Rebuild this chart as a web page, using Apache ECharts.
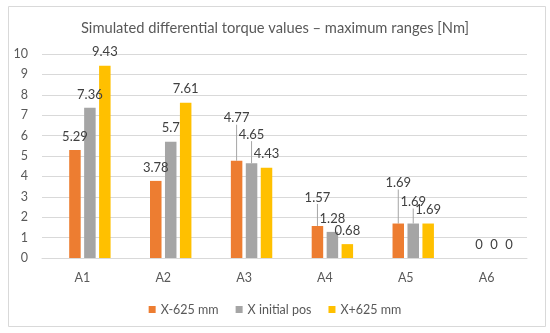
<!DOCTYPE html>
<html>
<head>
<meta charset="utf-8">
<script src="https://cdn.jsdelivr.net/npm/echarts@6/dist/echarts.min.js"></script>
<style>
html,body{margin:0;padding:0;background:#fff;}
#c{width:550px;height:333px;}
</style>
</head>
<body>
<div id="c"></div>
<script>
var categories = ['A1', 'A2', 'A3', 'A4', 'A5', 'A6'];
var seriesNames = ['X-625 mm', 'X initial pos', 'X+625 mm'];
var xMinus625 = [5.29, 3.78, 4.77, 1.57, 1.69, 0];
var xInitial = [7.36, 5.7, 4.65, 1.28, 1.69, 0];
var xPlus625 = [9.43, 7.61, 4.43, 0.68, 1.69, 0];
var yTicks = [0, 1, 2, 3, 4, 5, 6, 7, 8, 9, 10];

var colors = ['#ED7D31', '#A5A5A5', '#FFC000'];
// label vertical shifts (px) for labels moved with leader lines: [series][category]
var labelShift = [
  [0, 0, -29, -15, -27, 0],
  [0, 0, -15, 0, -8, 0],
  [0, 0, 0, 0, 0, 0]
];
var FONT = 'Lato';
var values = [xMinus625, xInitial, xPlus625];

var series = [{
  name: '_blank', type: 'bar', data: categories.map(function(){return null;}),
  barWidth: 11.5, barGap: '30%', silent: true
}];
values.forEach(function(arr, si){
  series.push({
    name: seriesNames[si],
    type: 'bar',
    barWidth: 11.5,
    barGap: '30%',
    itemStyle: {color: colors[si]},
    data: arr.map(function(v, i){
      var shifted = labelShift[si][i] !== 0;
      return {value: v, labelLine: {show: shifted}};
    }),
    label: {
      show: true, position: 'top', distance: 7,
      color: '#404040', fontFamily: FONT, fontSize: 13
    },
    labelLine: {show: false, lineStyle: {color: '#A5A5A5', width: 1}},
    labelLayout: function(p){
      var s = labelShift[p.seriesIndex - 1];
      return {dy: s ? s[p.dataIndex] : 0};
    }
  });
});

var chart = echarts.init(document.getElementById('c'), null, {renderer: 'canvas'});
chart.setOption({
  animation: false,
  backgroundColor: '#fff',
  title: {
    text: 'Simulated differential torque values \u2013 maximum ranges [Nm]',
    left: 'center', top: 16,
    textStyle: {color: '#595959', fontFamily: FONT, fontSize: 14.7, fontWeight: 'normal'}
  },
  graphic: [{
    type: 'rect', left: 6, top: 4, silent: true,
    shape: {width: 537, height: 320},
    style: {fill: 'none', stroke: '#D9D9D9', lineWidth: 1}
  }],
  legend: {
    data: seriesNames,
    top: 298, left: 'center',
    itemWidth: 7, itemHeight: 7, itemGap: 17,
    icon: 'rect',
    textStyle: {color: '#595959', fontFamily: FONT, fontSize: 12.5}
  },
  grid: {left: 42, right: 23, top: 54, bottom: 75, containLabel: false},
  xAxis: {
    type: 'category', data: categories,
    axisLine: {lineStyle: {color: '#D9D9D9'}},
    axisTick: {show: false},
    axisLabel: {color: '#595959', fontFamily: FONT, fontSize: 12.5, margin: 13}
  },
  yAxis: {
    type: 'value', min: yTicks[0], max: yTicks[yTicks.length - 1], interval: 1,
    axisLine: {show: false}, axisTick: {show: false},
    splitLine: {lineStyle: {color: '#D9D9D9'}},
    axisLabel: {color: '#595959', fontFamily: FONT, fontSize: 12.5, margin: 14}
  },
  series: series
});
</script>
</body>
</html>
